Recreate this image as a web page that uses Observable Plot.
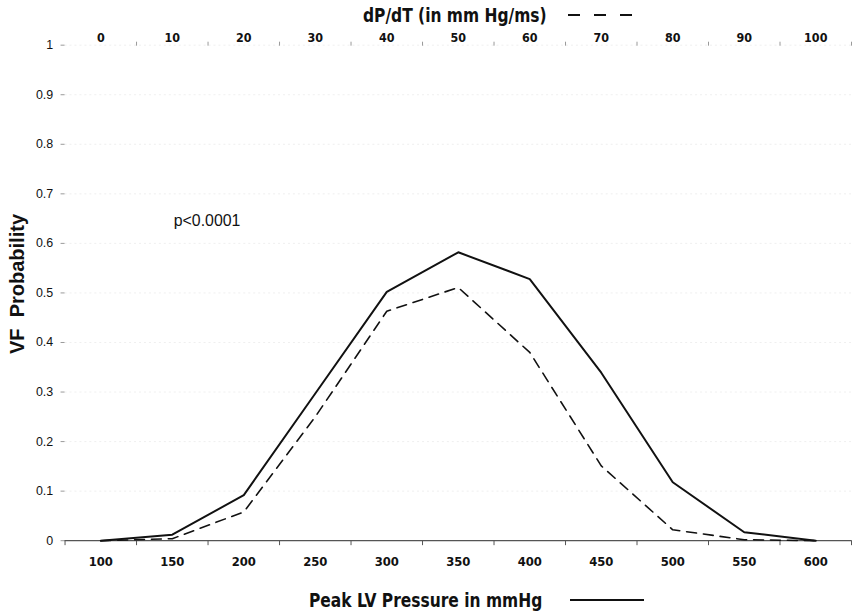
<!DOCTYPE html>
<html>
<head>
<meta charset="utf-8">
<script src="https://cdn.jsdelivr.net/npm/d3@7"></script>
<script src="https://cdn.jsdelivr.net/npm/@observablehq/plot@0.6"></script>
<style>
  html, body { margin: 0; padding: 0; background: white; }
  #wrap { position: relative; width: 852px; height: 614px; overflow: hidden; background: white; }
  .narrow { font-family: "Liberation Sans Narrow", "Arial Narrow", "DejaVu Sans Condensed", sans-serif; font-weight: bold; }
  .ttl { position: absolute; display: flex; align-items: center; font-size: 20px; line-height: 22px; color: #111; white-space: nowrap; transform-origin: 0 50%; }
  #ylab { position: absolute; left: 17px; top: 284px; transform: translate(-50%, -50%) rotate(-90deg);
          font-family: "Liberation Sans", Arial, sans-serif; font-weight: bold; font-size: 20px; white-space: nowrap; color: #111; }
</style>
</head>
<body>
<div id="wrap">
  <div class="ttl narrow" style="left:363px; top:4px;"><span style="display:inline-block; transform:scaleX(0.86); transform-origin:0 50%; width:190px;">dP/dT (in mm Hg/ms)</span><svg width="70" height="6" style="margin-left:15px"><line x1="0" x2="70" y1="3" y2="3" stroke="#111" stroke-width="2" stroke-dasharray="12,14"></line></svg></div>
  <div id="ylab">VF&nbsp;&nbsp;Probability</div>
  <div class="ttl narrow" style="left:309px; top:589px;"><span style="display:inline-block; transform:scaleX(0.86); transform-origin:0 50%; width:234px;">Peak LV Pressure in mmHg</span><svg width="74" height="6" style="margin-left:27px"><line x1="0" x2="74" y1="3" y2="3" stroke="#111" stroke-width="2"></line></svg></div>
</div>
<script>
// Bottom category axis: Peak LV Pressure (mmHg)
const pressure = [100, 150, 200, 250, 300, 350, 400, 450, 500, 550, 600];
// Top category axis: dP/dT (mm Hg/ms)
const dpdtLabels = ["0", "10", "20", "30", "40", "50", "60", "70", "80", "90", "100"];
// VF probability by Peak LV Pressure (solid)
const probPeakLV = [0, 0.012, 0.092, 0.297, 0.502, 0.582, 0.528, 0.339, 0.118, 0.017, 0];
// VF probability by dP/dT (dashed)
const probDpdt = [0, 0.004, 0.058, 0.25, 0.463, 0.511, 0.38, 0.151, 0.022, 0.002, 0];
// Y ticks
const yTicks = [0, 0.1, 0.2, 0.3, 0.4, 0.5, 0.6, 0.7, 0.8, 0.9, 1];
const yTickLabels = ["0", "0.1", "0.2", "0.3", "0.4", "0.5", "0.6", "0.7", "0.8", "0.9", "1"];
// Category boundaries (tick marks sit between categories)
const boundaries = [75, 125, 175, 225, 275, 325, 375, 425, 475, 525, 575, 625];
// Annotation
const annText = ["p<0.0001"];
const annX = [151];
const annY = [0.645];

const solidData = pressure.map((p, i) => ({p, v: probPeakLV[i]}));
const dashData = pressure.map((p, i) => ({p, v: probDpdt[i]}));
const ann = annText.map((t, i) => ({t, x: annX[i], y: annY[i]}));

const narrow = '"Liberation Sans Narrow", "Arial Narrow", "DejaVu Sans Condensed", sans-serif';

const chart = Plot.plot({
  width: 858,
  height: 614,
  marginLeft: 65,
  marginRight: 1,
  marginTop: 45,
  marginBottom: 70,
  x: {type: "linear", domain: [75, 625]},
  y: {domain: [0, 1]},
  style: {background: "white", fontFamily: '"Liberation Sans", Arial, sans-serif', color: "#111"},
  marks: [
    Plot.gridY(yTicks.slice(1), {stroke: "#e4e4e4", strokeOpacity: 0.6, strokeDasharray: "2,3"}),
    Plot.axisY({ticks: yTicks, tickFormat: (d, i) => yTickLabels[i], tickSize: 4, tickPadding: 8, fontSize: 12.5, stroke: "#999", fill: "#111"}),
    Plot.axisX({ticks: boundaries, tickFormat: () => "", tickSize: 5, stroke: "#555"}),
    Plot.axisX({ticks: pressure, tickFormat: d => String(d), tickSize: 0, tickPadding: 16, fontSize: 13, fontWeight: "bold", fontFamily: narrow, fill: "#111"}),
    Plot.axisX({anchor: "top", ticks: boundaries.slice(1), tickFormat: () => "", tickSize: 4, stroke: "#999"}),
    Plot.axisX({anchor: "top", ticks: pressure, tickFormat: (d, i) => dpdtLabels[i], tickSize: 0, tickPadding: 3, fontSize: 12.5, fontWeight: "bold", fontFamily: narrow, fill: "#111"}),
    Plot.ruleY([0], {stroke: "#555", strokeWidth: 1.2}),
    Plot.line(dashData, {x: "p", y: "v", stroke: "#111", strokeWidth: 1.6, strokeDasharray: "10,7"}),
    Plot.line(solidData, {x: "p", y: "v", stroke: "#111", strokeWidth: 2}),
    Plot.text(ann, {x: "x", y: "y", text: "t", textAnchor: "start", fontSize: 16, fill: "#111"})
  ]
});
document.getElementById("wrap").prepend(chart);
chart.style.position = "absolute";
chart.style.left = "0";
chart.style.top = "0";
</script>
</body>
</html>
